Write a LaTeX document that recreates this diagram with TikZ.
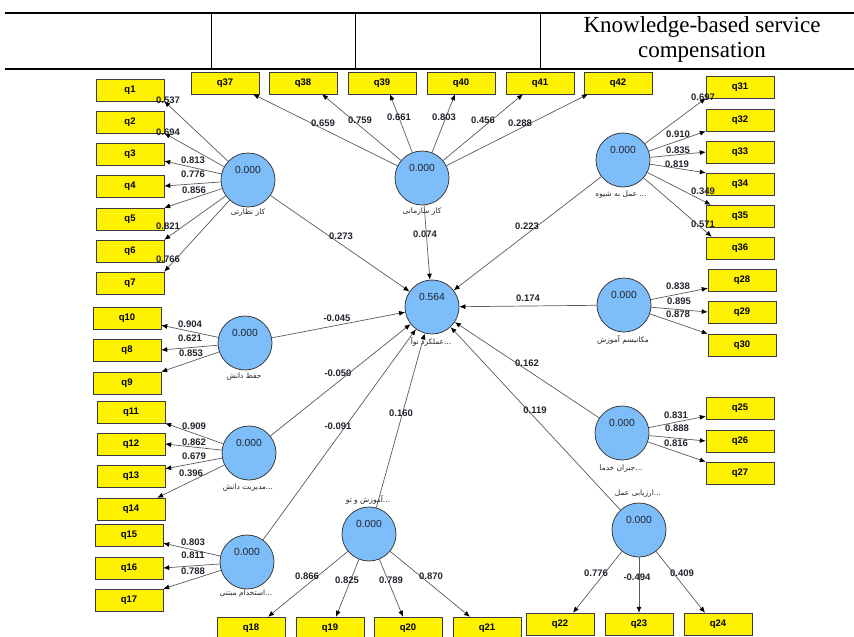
\documentclass[tikz,border=0pt]{standalone}
\usepackage{fontspec}
\setmainfont{Liberation Serif}
\setsansfont{Liberation Sans}
\newfontfamily\fa[Script=Arabic]{DejaVu Sans}
\TeXXeTstate=1
\usetikzlibrary{arrows.meta}
\definecolor{lvblue}{RGB}{125,190,250}
\definecolor{boxline}{RGB}{60,60,60}
\definecolor{linegray}{RGB}{90,90,90}
\definecolor{numtext}{RGB}{35,35,45}

\begin{document}
\begin{tikzpicture}[x=1pt,y=-1pt,
    ind/.style={draw=boxline, fill=yellow, minimum width=68pt, minimum height=22pt, inner sep=0pt, font=\sffamily\bfseries\fontsize{9.5}{10}\selectfont},
    lv/.style={circle, draw=boxline, line width=0.8pt, fill=lvblue, minimum size=54pt, inner sep=0pt},
    val/.style={font=\sffamily\fontsize{10.3}{10}\selectfont, text=numtext, inner sep=0pt},
    nm/.style={font=\sffamily\bfseries\fontsize{9.5}{9}\selectfont, text=numtext, inner sep=0pt},
    pname/.style={font=\fa\fontsize{7.5}{8}\selectfont, text=numtext, inner sep=0pt},
    ld/.style={draw=linegray, line width=0.7pt, -{Latex[length=6pt,width=5pt,color=black]}}]
        \useasboundingbox (0,0) rectangle (854,637);
        % header table
        \draw[line width=2.5pt] (5,13) -- (854,13);
        \draw[line width=2.5pt] (5,69) -- (854,69);
        \draw[line width=1pt] (211,13) -- (211,69);
        \draw[line width=1pt] (355,13) -- (355,69);
        \draw[line width=1pt] (540,13) -- (540,69);
        \node[align=center, font=\fontsize{23}{25}\selectfont] (title) at (702,39) {Knowledge-based service\\compensation};

        % constructs
        \node[lv] (kn) at (248,180) {};
        \node[lv] (ks) at (422,178) {};
        \node[lv] (amal) at (623,160) {};
        \node[lv] (hifz) at (245,343) {};
        \node[lv] (ctr) at (432,307) {};
        \node[lv] (mek) at (624,305) {};
        \node[lv] (jbr) at (622,433) {};
        \node[lv] (mod) at (249,453) {};
        \node[lv] (est) at (247,562) {};
        \node[lv] (amz) at (369,534) {};
        \node[lv] (arz) at (639,530) {};
        \node[val] (kn-v) at ([yshift=10pt]kn.center) {0.000};
        \node[val] (ks-v) at ([yshift=10pt]ks.center) {0.000};
        \node[val] (amal-v) at ([yshift=10pt]amal.center) {0.000};
        \node[val] (hifz-v) at ([yshift=10pt]hifz.center) {0.000};
        \node[val] (ctr-v) at ([yshift=10pt]ctr.center) {0.564};
        \node[val] (mek-v) at ([yshift=10pt]mek.center) {0.000};
        \node[val] (jbr-v) at ([yshift=10pt]jbr.center) {0.000};
        \node[val] (mod-v) at ([yshift=10pt]mod.center) {0.000};
        \node[val] (est-v) at ([yshift=10pt]est.center) {0.000};
        \node[val] (amz-v) at ([yshift=10pt]amz.center) {0.000};
        \node[val] (arz-v) at ([yshift=10pt]arz.center) {0.000};
        \node[pname] (kn-t) at (248,213) {\beginR کار نظارتی\endR};
        \node[pname] (ks-t) at (422,212) {\beginR کار سازمانی\endR};
        \node[pname] (amal-t) at (621,195) {\beginR عمل به شیوه\endR\ ...};
        \node[pname] (hifz-t) at (244,377) {\beginR حفظ دانش\endR};
        \node[pname] (ctr-t) at (431,342) {\beginR عملکرد نوآ\endR...};
        \node[pname] (mek-t) at (623,340) {\beginR مکانیسم آموزش\endR};
        \node[pname] (jbr-t) at (621,469) {\beginR جبران خدما\endR...};
        \node[pname] (mod-t) at (248,488) {\beginR مدیریت دانش\endR...};
        \node[pname] (est-t) at (246,594) {\beginR استخدام مبتنی\endR...};
        \node[pname] (amz-t) at (368,500) {\beginR آموزش و تو\endR...};
        \node[pname] (arz-t) at (638,494) {\beginR ارزیابی عمل\endR...};

        % indicators
        \node[ind] (q1) at (130,90) {q1};
        \node[ind] (q2) at (130,122) {q2};
        \node[ind] (q3) at (130,154) {q3};
        \node[ind] (q4) at (130,186) {q4};
        \node[ind] (q5) at (130,219) {q5};
        \node[ind] (q6) at (130,251) {q6};
        \node[ind] (q7) at (130,283) {q7};
        \node[ind] (q37) at (225,83) {q37};
        \node[ind] (q38) at (303,83) {q38};
        \node[ind] (q39) at (382,83) {q39};
        \node[ind] (q40) at (461,83) {q40};
        \node[ind] (q41) at (540,83) {q41};
        \node[ind] (q42) at (618,83) {q42};
        \node[ind] (q31) at (740,87) {q31};
        \node[ind] (q32) at (740,120) {q32};
        \node[ind] (q33) at (740,152) {q33};
        \node[ind] (q34) at (740,184) {q34};
        \node[ind] (q35) at (740,216) {q35};
        \node[ind] (q36) at (740,248) {q36};
        \node[ind] (q10) at (127,318) {q10};
        \node[ind] (q8) at (127,350) {q8};
        \node[ind] (q9) at (127,383) {q9};
        \node[ind] (q11) at (131,412) {q11};
        \node[ind] (q12) at (131,444) {q12};
        \node[ind] (q13) at (131,476) {q13};
        \node[ind] (q14) at (131,509) {q14};
        \node[ind] (q15) at (129,535) {q15};
        \node[ind] (q16) at (129,568) {q16};
        \node[ind] (q17) at (129,600) {q17};
        \node[ind] (q18) at (251,628) {q18};
        \node[ind] (q19) at (330,628) {q19};
        \node[ind] (q20) at (408,628) {q20};
        \node[ind] (q21) at (487,628) {q21};
        \node[ind] (q22) at (560,624) {q22};
        \node[ind] (q23) at (639,624) {q23};
        \node[ind] (q24) at (718,624) {q24};
        \node[ind] (q28) at (742,280) {q28};
        \node[ind] (q29) at (742,312) {q29};
        \node[ind] (q30) at (742,345) {q30};
        \node[ind] (q25) at (740,408) {q25};
        \node[ind] (q26) at (740,441) {q26};
        \node[ind] (q27) at (740,473) {q27};

        % outer loadings
        \draw[ld] (kn) -- (q1.south east);
        \draw[ld] (kn) -- (q2.south east);
        \draw[ld] (kn) -- ([yshift=-7pt]q3.east);
        \draw[ld] (kn) -- (q4.east);
        \draw[ld] (kn) -- (q5.north east);
        \draw[ld] (kn) -- (q6.north east);
        \draw[ld] (kn) -- (q7.north east);
        \draw[ld] (ks) -- ([xshift=28pt]q37.south);
        \draw[ld] (ks) -- ([xshift=19pt]q38.south);
        \draw[ld] (ks) -- ([xshift=8pt]q39.south);
        \draw[ld] (ks) -- ([xshift=-6pt]q40.south);
        \draw[ld] (ks) -- ([xshift=-17pt]q41.south);
        \draw[ld] (ks) -- ([xshift=-30pt]q42.south);
        \draw[ld] (amal) -- (q31.south west);
        \draw[ld] (amal) -- (q32.south west);
        \draw[ld] (amal) -- (q33.west);
        \draw[ld] (amal) -- (q34.north west);
        \draw[ld] (amal) -- ([xshift=5pt]q35.north west);
        \draw[ld] (amal) -- ([xshift=6pt]q36.north west);
        \draw[ld] (hifz) -- ([yshift=4pt]q10.south east);
        \draw[ld] (hifz) -- (q8.east);
        \draw[ld] (hifz) -- (q9.north east);
        \draw[ld] (mod) -- (q11.south east);
        \draw[ld] (mod) -- (q12.east);
        \draw[ld] (mod) -- ([yshift=-4pt]q13.north east);
        \draw[ld] (mod) -- ([xshift=-8pt]q14.north east);
        \draw[ld] (est) -- ([yshift=3pt]q15.south east);
        \draw[ld] (est) -- (q16.east);
        \draw[ld] (est) -- (q17.north east);
        \draw[ld] (amz) -- ([xshift=17pt]q18.north);
        \draw[ld] (amz) -- ([xshift=6pt]q19.north);
        \draw[ld] (amz) -- ([xshift=-5pt]q20.north);
        \draw[ld] (amz) -- ([xshift=-17pt]q21.north);
        \draw[ld] (arz) -- ([xshift=13pt]q22.north);
        \draw[ld] (arz) -- (q23.north);
        \draw[ld] (arz) -- ([xshift=-13pt]q24.north);
        \draw[ld] (mek) -- ([yshift=3pt]q28.south west);
        \draw[ld] (mek) -- (q29.west);
        \draw[ld] (mek) -- (q30.north west);
        \draw[ld] (jbr) -- ([yshift=3pt]q25.south west);
        \draw[ld] (jbr) -- (q26.west);
        \draw[ld] (jbr) -- (q27.north west);

        % path coefficients
        \draw[ld] (kn) -- (ctr);
        \draw[ld] (ks) -- (ctr);
        \draw[ld] (amal) -- (ctr);
        \draw[ld] (mek) -- (ctr);
        \draw[ld] (hifz) -- (ctr);
        \draw[ld] (mod) -- (ctr);
        \draw[ld] (est) -- (ctr);
        \draw[ld] (amz) -- (ctr);
        \draw[ld] (arz) -- (ctr);
        \draw[ld] (jbr) -- (ctr);

        % loading values
        \node[nm] (l1) at (168,100) {0.537};
        \node[nm] (l2) at (168,132) {0.694};
        \node[nm] (l3) at (193,160) {0.813};
        \node[nm] (l4) at (193,174) {0.776};
        \node[nm] (l5) at (194,190) {0.856};
        \node[nm] (l6) at (168,226) {0.821};
        \node[nm] (l7) at (168,259) {0.766};
        \node[nm] (l37) at (323,123) {0.659};
        \node[nm] (l38) at (360,120) {0.759};
        \node[nm] (l39) at (399,117) {0.661};
        \node[nm] (l40) at (444,117) {0.803};
        \node[nm] (l41) at (483,120) {0.456};
        \node[nm] (l42) at (520,123) {0.288};
        \node[nm] (l31) at (703,97) {0.697};
        \node[nm] (l32) at (678,134) {0.910};
        \node[nm] (l33) at (678,150) {0.835};
        \node[nm] (l34) at (677,164) {0.819};
        \node[nm] (l35) at (703,191) {0.349};
        \node[nm] (l36) at (703,224) {0.571};
        \node[nm] (l10) at (190,324) {0.904};
        \node[nm] (l8) at (190,338) {0.621};
        \node[nm] (l9) at (191,353) {0.853};
        \node[nm] (l11) at (194,426) {0.909};
        \node[nm] (l12) at (194,442) {0.862};
        \node[nm] (l13) at (194,456) {0.679};
        \node[nm] (l14) at (191,473) {0.396};
        \node[nm] (l15) at (193,542) {0.803};
        \node[nm] (l16) at (193,555) {0.811};
        \node[nm] (l17) at (193,571) {0.788};
        \node[nm] (l18) at (307,576) {0.866};
        \node[nm] (l19) at (347,580) {0.825};
        \node[nm] (l20) at (391,580) {0.789};
        \node[nm] (l21) at (431,576) {0.870};
        \node[nm] (l22) at (596,573) {0.776};
        \node[nm] (l23) at (637,577) {-0.494};
        \node[nm] (l24) at (682,573) {0.409};
        \node[nm] (l28) at (678,286) {0.838};
        \node[nm] (l29) at (679,301) {0.895};
        \node[nm] (l30) at (678,314) {0.878};
        \node[nm] (l25) at (676,415) {0.831};
        \node[nm] (l26) at (677,428) {0.888};
        \node[nm] (l27) at (676,443) {0.816};
        \node[nm] (p-kn) at (341,236) {0.273};
        \node[nm] (p-ks) at (425,234) {0.074};
        \node[nm] (p-amal) at (527,226) {0.223};
        \node[nm] (p-mek) at (528,298) {0.174};
        \node[nm] (p-hifz) at (337,318) {-0.045};
        \node[nm] (p-mod) at (338,373) {-0.050};
        \node[nm] (p-est) at (338,426) {-0.091};
        \node[nm] (p-amz) at (401,413) {0.160};
        \node[nm] (p-jbr) at (527,363) {0.162};
        \node[nm] (p-arz) at (535,410) {0.119};
\end{tikzpicture}
\end{document}
